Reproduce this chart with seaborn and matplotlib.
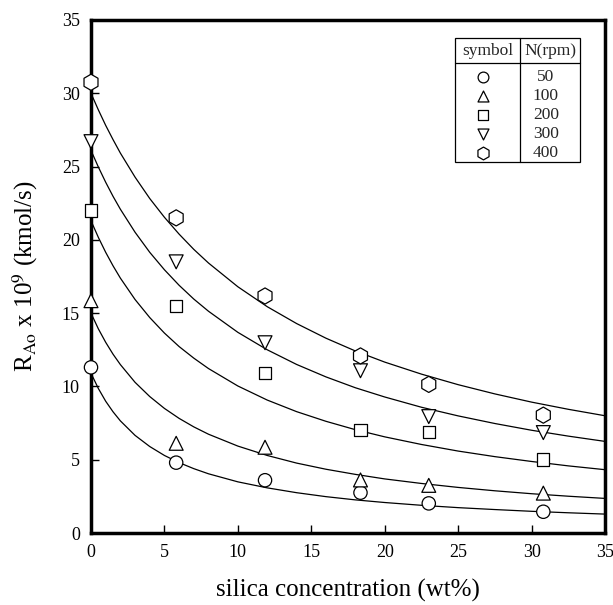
import numpy as np
import pandas as pd
import matplotlib
matplotlib.use("Agg")
import matplotlib.pyplot as plt
import seaborn as sns

# ---------------- data ----------------
speeds = [50, 100, 200, 300, 400]
conc = [0, 5.8, 11.85, 18.35, 23.0, 30.8]
rate_50 = [11.3, 4.8, 3.6, 2.75, 2.02, 1.45]
rate_100 = [15.85, 6.12, 5.85, 3.62, 3.25, 2.72]
rate_200 = [22.0, 15.49, 10.94, 7.03, 6.91, 5.02]
rate_300 = [26.7, 18.5, 12.98, 11.07, 7.94, 6.85]
rate_400 = [30.75, 21.5, 16.17, 12.08, 10.14, 8.04]

# fitted curves
curve_x = [0, 0.5, 1, 1.5, 2, 3, 4, 5, 6, 7, 8, 10, 12, 14, 16, 18, 20,
           22.5, 25, 27.5, 30, 32.5, 35]
curve_50 = [10.9, 9.86, 8.99, 8.27, 7.65, 6.66, 5.90, 5.29, 4.80, 4.39, 4.04,
            3.49, 3.08, 2.75, 2.48, 2.26, 2.08, 1.89, 1.73, 1.60, 1.48, 1.38, 1.29]
curve_100 = [15.0, 13.93, 13.01, 12.20, 11.49, 10.28, 9.31, 8.50, 7.82, 7.24,
             6.74, 5.93, 5.29, 4.77, 4.35, 4.00, 3.69, 3.38, 3.11, 2.88, 2.68,
             2.51, 2.36]
curve_200 = [21.3, 20.17, 19.15, 18.23, 17.39, 15.93, 14.70, 13.64, 12.72,
             11.93, 11.22, 10.03, 9.07, 8.28, 7.62, 7.05, 6.56, 6.04, 5.59,
             5.21, 4.88, 4.58, 4.32]
curve_300 = [26.1, 24.97, 23.93, 22.97, 22.09, 20.52, 19.15, 17.96, 16.90,
             15.96, 15.13, 13.69, 12.50, 11.50, 10.65, 9.91, 9.28, 8.58, 7.99,
             7.47, 7.01, 6.61, 6.25]
curve_400 = [30.0, 28.87, 27.81, 26.84, 25.92, 24.28, 22.82, 21.54, 20.39,
             19.35, 18.42, 16.80, 15.44, 14.29, 13.29, 12.42, 11.66, 10.84,
             10.12, 9.49, 8.93, 8.44, 8.00]

x_ticks = [0, 5, 10, 15, 20, 25, 30, 35]
y_ticks = [0, 5, 10, 15, 20, 25, 30, 35]
marker_map = {50: "o", 100: "^", 200: "s", 300: "v", 400: "h"}
marker_area = {50: 92, 100: 100, 200: 78, 300: 100, 400: 135}
legend_area = {50: 60, 100: 62, 200: 52, 300: 62, 400: 85}

rates = [rate_50, rate_100, rate_200, rate_300, rate_400]
curves = [curve_50, curve_100, curve_200, curve_300, curve_400]

pts = pd.DataFrame({
    "conc": np.tile(conc, len(speeds)),
    "rate": np.concatenate(rates),
    "N": np.repeat(speeds, len(conc)),
})
lines = pd.DataFrame({
    "conc": np.tile(curve_x, len(speeds)),
    "rate": np.concatenate(curves),
    "N": np.repeat(speeds, len(curve_x)),
})

# ---------------- style ----------------
sns.set_theme(style="ticks")
plt.rcParams["font.family"] = ["Liberation Serif", "DejaVu Serif"]
plt.rcParams["mathtext.fontset"] = "stix"

fig = plt.figure(figsize=(6.13, 6.05), dpi=100)
ax = fig.add_axes([91 / 613, 1 - 533 / 605, 514 / 613, 513 / 605])

sns.lineplot(data=lines, x="conc", y="rate", units="N", estimator=None,
             color="black", linewidth=0.9, sort=False, legend=False, ax=ax)
sns.scatterplot(data=pts, x="conc", y="rate", style="N", markers=marker_map,
                size="N", sizes=marker_area,
                color="white", edgecolor="black", linewidth=0.9,
                legend=False, clip_on=False, zorder=5, ax=ax)

ax.set_xlim(0, 35)
ax.set_ylim(0, 35)
ax.set_xticks(x_ticks)
ax.set_yticks(y_ticks)
ax.tick_params(direction="in", length=6, width=1, labelsize=13, pad=8,
               top=False, right=False, color="black", labelcolor="black")
for sp in ax.spines.values():
    sp.set_visible(True)
    sp.set_linewidth(2.5)
    sp.set_color("black")

ax.set_xlabel("silica concentration (wt%)", fontsize=18, color="black")
ax.set_ylabel(r"R$_{\mathrm{Ao}}$ x 10$^{9}$ (kmol/s)", fontsize=18, color="black")
ax.xaxis.set_label_coords(0.5, -0.09)
ax.yaxis.set_label_coords(-0.1, 0.5)

# ---------------- table-style legend ----------------
lx0, lx1, ldiv = 0.708, 0.951, 0.8356
ly0, ly1, lhead = 0.7226, 0.9643, 0.9162
lw = 0.9
tr = ax.transAxes
ax.add_patch(plt.Rectangle((lx0, ly0), lx1 - lx0, ly1 - ly0, transform=tr,
                           fill=True, facecolor="white", edgecolor="black",
                           linewidth=lw, zorder=6))
ax.plot([lx0, lx1], [lhead, lhead], transform=tr, color="black", lw=lw, zorder=7)
ax.plot([ldiv, ldiv], [ly0, ly1], transform=tr, color="black", lw=lw, zorder=7)
ax.text((lx0 + ldiv) / 2, 0.939, "symbol", transform=tr, ha="center",
        va="center", fontsize=12.5, zorder=8)
ax.text((ldiv + lx1) / 2, 0.939, "N(rpm)", transform=tr, ha="center",
        va="center", fontsize=12.5, zorder=8)
row_y = [0.888, 0.852, 0.815, 0.778, 0.741]
for spd, yy in zip(speeds, row_y):
    ax.scatter([0.763], [yy], transform=tr, marker=marker_map[spd],
               s=legend_area[spd], facecolor="white", edgecolor="black",
               linewidth=0.9, zorder=8, clip_on=False)
    ax.text(0.885, yy, str(spd), transform=tr, ha="center", va="center",
            fontsize=12.5, zorder=8)

fig.savefig("out.png", dpi=100)
